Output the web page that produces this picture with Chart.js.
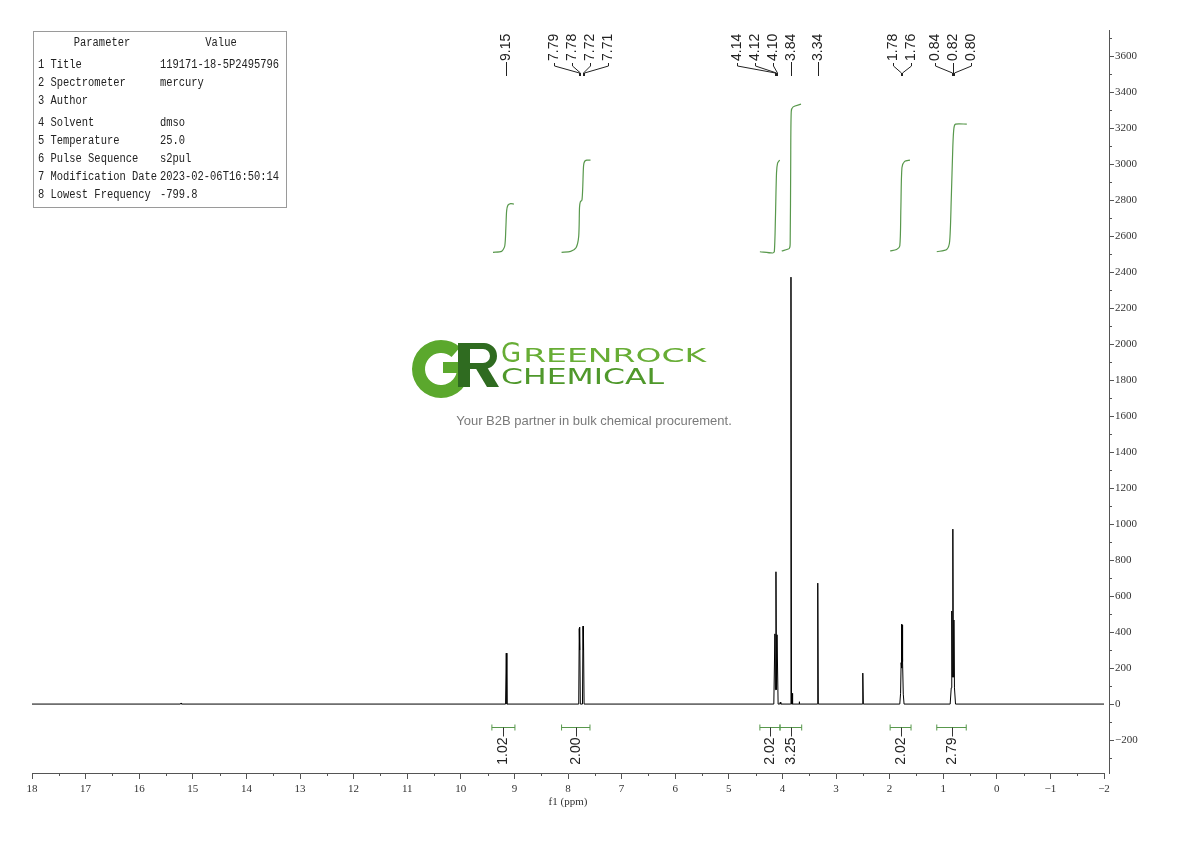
<!DOCTYPE html>
<html><head><meta charset="utf-8">
<script src="https://cdn.jsdelivr.net/npm/chart.js@4.4.0/dist/chart.umd.min.js"></script>
<style>html,body{margin:0;padding:0;background:#fff;}canvas{display:block;}</style>
</head><body>
<canvas id="c" width="1190" height="841"></canvas>
<script>
// ---------- data ----------
const xTickValues = [18,17,16,15,14,13,12,11,10,9,8,7,6,5,4,3,2,1,0,-1,-2];
const xTickLabels = ['18','17','16','15','14','13','12','11','10','9','8','7','6','5','4','3','2','1','0','\u22121','\u22122'];
const yTickValues = [-200,0,200,400,600,800,1000,1200,1400,1600,1800,2000,2200,2400,2600,2800,3000,3200,3400,3600];
const yTickLabels = ['\u2212200','0','200','400','600','800','1000','1200','1400','1600','1800','2000','2200','2400','2600','2800','3000','3200','3400','3600'];

// spectrum (ppm, intensity)
const specPpm = [18.00,15.23,15.22,15.21,9.165,9.152,9.140,
  7.800,7.790,7.785,7.780,7.770,7.730,7.720,7.715,7.710,7.700,
  4.160,4.140,4.130,4.120,4.110,4.100,4.080,4.050,4.040,4.030,
  3.850,3.840,3.830,3.820,3.815,3.805,3.690,3.685,3.680,
  3.350,3.340,3.330,2.510,2.500,2.490,
  1.810,1.795,1.785,1.778,1.772,1.766,1.758,1.745,1.730,
  0.870,0.850,0.840,0.830,0.820,0.810,0.800,0.790,0.770,-2.00];
const specInt = [0,0,6,0,0,283,0,
  0,420,300,428,0,0,433,300,425,0,
  0,390,80,735,80,385,0,0,10,0,
  0,2372,0,0,60,0,0,13,0,
  0,672,0,0,172,0,
  0,60,230,444,200,440,235,55,0,
  0,90,517,150,972,150,467,90,0,0];

// integral curves ([ppm, value])
const integral1 = [[9.40,2510],[9.24,2515],[9.18,2545],[9.16,2640],[9.145,2740],[9.12,2772],[9.07,2780],[9.01,2778]];
const integral2 = [[8.12,2510],[7.95,2515],[7.85,2535],[7.80,2600],[7.785,2760],[7.77,2790],[7.74,2800],[7.725,2870],[7.71,2990],[7.69,3015],[7.65,3022],[7.58,3022]];
const integral3 = [[4.42,2513],[4.18,2506],[4.15,2515],[4.13,2700],[4.11,2950],[4.09,3005],[4.05,3022]];
const integral4 = [[4.013,2517],[3.87,2532],[3.855,2560],[3.845,3000],[3.835,3291],[3.80,3318],[3.653,3333]];
const integral5 = [[1.99,2517],[1.87,2526],[1.81,2545],[1.79,2750],[1.77,2980],[1.72,3015],[1.62,3022]];
const integral6 = [[1.12,2513],[0.935,2526],[0.88,2570],[0.85,2800],[0.82,3100],[0.80,3200],[0.77,3222],[0.56,3222]];

// integration regions
const intFrom  = [9.42, 8.12, 4.42, 4.045, 1.99, 1.12];
const intTo    = [8.99, 7.59, 4.045, 3.64, 1.60, 0.57];
const intLabel = ['1.02','2.00','2.02','3.25','2.02','2.79'];

// peak labels and multiplet grouping (count per group)
const peakLabels = ['9.15','7.79','7.78','7.72','7.71','4.14','4.12','4.10','3.84','3.34','1.78','1.76','0.84','0.82','0.80'];
const peakGroups = [1,4,3,1,1,2,3];

// parameter table
const paramNames  = ['1 Title','2 Spectrometer','3 Author','4 Solvent','5 Temperature','6 Pulse Sequence','7 Modification Date','8 Lowest Frequency'];
const paramValues = ['119171-18-5P2495796','mercury','','dmso','25.0','s2pul','2023-02-06T16:50:14','-799.8'];

// ---------- helpers ----------
const toXY = arr => arr.map(p => ({x:p[0], y:p[1]}));
const GREEN = 'rgb(88,152,76)';
const SANS = '"Liberation Sans", Arial, sans-serif';
const SERIF = '"Liberation Serif", "DejaVu Serif", serif';
const MONO = '"Liberation Mono", "DejaVu Sans Mono", monospace';

function vtext(ctx, s, x, y, align) {
  ctx.save(); ctx.translate(x, y); ctx.rotate(-Math.PI/2);
  ctx.textAlign = align; ctx.textBaseline = 'middle';
  ctx.fillText(s, 0, 0); ctx.restore();
}
function line(ctx, x1, y1, x2, y2) { ctx.beginPath(); ctx.moveTo(x1,y1); ctx.lineTo(x2,y2); ctx.stroke(); }
function ntext(ctx, s, x, y, align, sx) {
  ctx.save(); ctx.translate(x, y); ctx.scale(sx, 1);
  ctx.textAlign = align; ctx.textBaseline = 'middle';
  ctx.fillText(s, 0, 0); ctx.restore();
}

const overlay = {
  id: 'overlay',
  afterLayout(chart) {
    const y = chart.scales.y; y.left += 5; y.right += 5;
  },
  beforeDatasetsDraw(chart) {
    const ctx = chart.ctx;
    ctx.save();
    // logo mark: G ring
    ctx.fillStyle = '#5ba82d';
    ctx.beginPath();
    ctx.arc(441, 369, 29, 0, Math.PI*2 - 0.85, false);
    ctx.arc(441, 369, 16, Math.PI*2 - 0.85, 0, true);
    ctx.closePath(); ctx.fill();
    ctx.fillRect(443, 362, 20, 11);
    // R
    ctx.fillStyle = '#2f6b20';
    ctx.fillRect(458, 343, 12, 44);
    ctx.beginPath();
    ctx.moveTo(470, 343); ctx.lineTo(484, 343);
    ctx.arc(484, 356, 13, -Math.PI/2, Math.PI/2, false);
    ctx.lineTo(470, 369); ctx.closePath();
    ctx.moveTo(470, 349); ctx.lineTo(470, 363); ctx.lineTo(483, 363);
    ctx.arc(483, 356, 7, Math.PI/2, -Math.PI/2, true);
    ctx.closePath();
    ctx.fill('evenodd');
    ctx.beginPath();
    ctx.moveTo(475, 367); ctx.lineTo(487, 367); ctx.lineTo(499, 387); ctx.lineTo(487, 387); ctx.closePath(); ctx.fill();
    // logo text
    ctx.textBaseline = 'alphabetic'; ctx.textAlign = 'left';
    ctx.fillStyle = '#67ad35';
    ctx.font = '26px "DejaVu Sans", sans-serif';
    ctx.fillText('G', 501, 362);
    let gW = ctx.measureText('G').width;
    ctx.font = '20px "DejaVu Sans", sans-serif';
    let w = ctx.measureText('REENROCK').width;
    ctx.save(); ctx.translate(503 + gW, 362); ctx.scale(183 / w, 1); ctx.fillText('REENROCK', 0, 0); ctx.restore();
    ctx.fillStyle = '#4f982b';
    ctx.font = '22px "DejaVu Sans", sans-serif';
    w = ctx.measureText('CHEMICAL').width;
    ctx.save(); ctx.translate(501, 384); ctx.scale(163 / w, 1); ctx.fillText('CHEMICAL', 0, 0); ctx.restore();
    ctx.fillStyle = '#7a7a7a';
    ctx.font = '13px ' + SANS; ctx.textAlign = 'center'; ctx.textBaseline = 'middle';
    ctx.fillText('Your B2B partner in bulk chemical procurement.', 594, 421);
    ctx.restore();
  },
  afterDraw(chart) {
    const ctx = chart.ctx, xs = chart.scales.x, ys = chart.scales.y, area = chart.chartArea;
    ctx.save();
    // minor ticks
    ctx.strokeStyle = '#555'; ctx.lineWidth = 1;
    for (let v = -1.5; v < 18; v += 1) {
      const px = Math.round(xs.getPixelForValue(v)) + 0.5;
      line(ctx, px, area.bottom, px, area.bottom + 3);
    }
    const yAxisX = ys.left;
    for (let v = -300; v <= 3700; v += 200) {
      const py = Math.round(ys.getPixelForValue(v)) + 0.5;
      line(ctx, yAxisX, py, yAxisX + 3, py);
    }
    // axis title
    ctx.fillStyle = '#333'; ctx.font = '11px ' + SERIF; ctx.textAlign = 'center'; ctx.textBaseline = 'middle';
    ctx.fillText('f1 (ppm)', (area.left + area.right) / 2, area.bottom + 29);

    // integration bars
    const zeroY = ys.getPixelForValue(0);
    const barY = Math.round(zeroY + 23) + 0.5;
    ctx.font = '14px ' + SANS;
    for (let i = 0; i < intFrom.length; i++) {
      const x1 = xs.getPixelForValue(intFrom[i]), x2 = xs.getPixelForValue(intTo[i]);
      const xc = Math.round((x1 + x2) / 2) + 0.5;
      ctx.strokeStyle = GREEN; ctx.lineWidth = 1;
      line(ctx, x1, barY, x2, barY);
      line(ctx, x1, barY - 3, x1, barY + 3);
      line(ctx, x2, barY - 3, x2, barY + 3);
      ctx.strokeStyle = '#333';
      line(ctx, xc, barY, xc, barY + 9);
      ctx.fillStyle = '#222';
      vtext(ctx, intLabel[i], xc, barY + 10, 'right');
    }

    // peak labels
    const gap = 18;
    const groups = [];
    let k = 0;
    for (const n of peakGroups) {
      const items = [];
      for (let j = 0; j < n; j++, k++) items.push({ s: peakLabels[k], px: xs.getPixelForValue(parseFloat(peakLabels[k])) });
      const c = items.reduce((a, b) => a + b.px, 0) / n;
      items.forEach((it, j) => it.lx = c + (j - (n - 1) / 2) * gap);
      groups.push(items);
    }
    for (let it = 0; it < 50; it++) {
      for (let g = 0; g < groups.length - 1; g++) {
        const a = groups[g], b = groups[g + 1];
        const ov = a[a.length - 1].lx + gap - b[0].lx;
        if (ov > 0.01) {
          let sa = 0.5, sb = 0.5;
          if (a.length === 1 && b.length > 1) { sa = 0; sb = 1; }
          else if (a.length > 1 && b.length === 1) { sa = 1; sb = 0; }
          a.forEach(q => q.lx -= ov * sa);
          b.forEach(q => q.lx += ov * sb);
        }
      }
    }
    ctx.font = '14px ' + SANS; ctx.fillStyle = '#222'; ctx.strokeStyle = '#222'; ctx.lineWidth = 1;
    const textBottom = 61;
    for (const g of groups) {
      for (const it of g) {
        const lx = Math.round(it.lx) + 0.5, px = Math.round(it.px) + 0.5;
        vtext(ctx, it.s, lx, textBottom, 'left');
        if (g.length === 1) {
          line(ctx, lx, textBottom + 1, lx, 76);
        } else {
          ctx.beginPath();
          ctx.moveTo(lx, textBottom + 2); ctx.lineTo(lx, 66); ctx.lineTo(px, 73); ctx.lineTo(px, 76);
          ctx.stroke();
        }
      }
    }

    // parameter table
    ctx.strokeStyle = '#9a9a9a'; ctx.lineWidth = 1;
    ctx.strokeRect(33.5, 31.5, 253, 176);
    ctx.fillStyle = '#222'; ctx.font = '12.5px ' + MONO;
    const sx = 0.835;
    ntext(ctx, 'Parameter', 102, 43, 'center', sx);
    ntext(ctx, 'Value', 221, 43, 'center', sx);
    for (let i = 0; i < paramNames.length; i++) {
      const y = 65 + i * 18 + (i >= 3 ? 4 : 0);
      ntext(ctx, paramNames[i], 38, y, 'left', sx);
      ntext(ctx, paramValues[i], 160, y, 'left', sx);
    }
    ctx.restore();
  }
};

const specData = specPpm.map((p, i) => ({ x: p, y: specInt[i] }));
const intStyle = { borderColor: GREEN, borderWidth: 1.2, pointRadius: 0, showLine: true, tension: 0.25, fill: false };

new Chart(document.getElementById('c'), {
  type: 'scatter',
  data: {
    datasets: [
      { data: specData, borderColor: '#000', borderWidth: 1, pointRadius: 0, showLine: true, tension: 0, fill: false },
      Object.assign({ data: toXY(integral1) }, intStyle),
      Object.assign({ data: toXY(integral2) }, intStyle),
      Object.assign({ data: toXY(integral3) }, intStyle),
      Object.assign({ data: toXY(integral4) }, intStyle),
      Object.assign({ data: toXY(integral5) }, intStyle),
      Object.assign({ data: toXY(integral6) }, intStyle)
    ]
  },
  options: {
    responsive: false, animation: false, devicePixelRatio: 1,
    layout: { padding: { left: 32, top: 30, right: 0, bottom: 0 } },
    plugins: { legend: { display: false }, tooltip: { enabled: false } },
    scales: {
      x: {
        type: 'linear', reverse: true, min: -2, max: 18, position: 'bottom',
        afterBuildTicks: s => { s.ticks = xTickValues.map(v => ({ value: v })); },
        afterFit: s => { s.height = 68; },
        ticks: { callback: (v, i) => xTickLabels[i], autoSkip: false, maxRotation: 0, padding: 4,
                 font: { family: SERIF, size: 11 }, color: '#333' },
        grid: { display: true, drawOnChartArea: false, drawTicks: true, tickLength: 6, color: '#555' },
        border: { display: true, color: '#555', width: 1 }
      },
      y: {
        type: 'linear', position: 'right', min: -383, max: 3745,
        afterBuildTicks: s => { s.ticks = yTickValues.map(v => ({ value: v })); },
        afterFit: s => { s.width = 86; },
        ticks: { callback: (v, i) => yTickLabels[i], autoSkip: false, padding: 1,
                 font: { family: SERIF, size: 11 }, color: '#333' },
        grid: { display: true, drawOnChartArea: false, drawTicks: true, tickLength: 5, color: '#555' },
        border: { display: true, color: '#555', width: 1 }
      }
    }
  },
  plugins: [overlay]
});
</script>
</body></html>
